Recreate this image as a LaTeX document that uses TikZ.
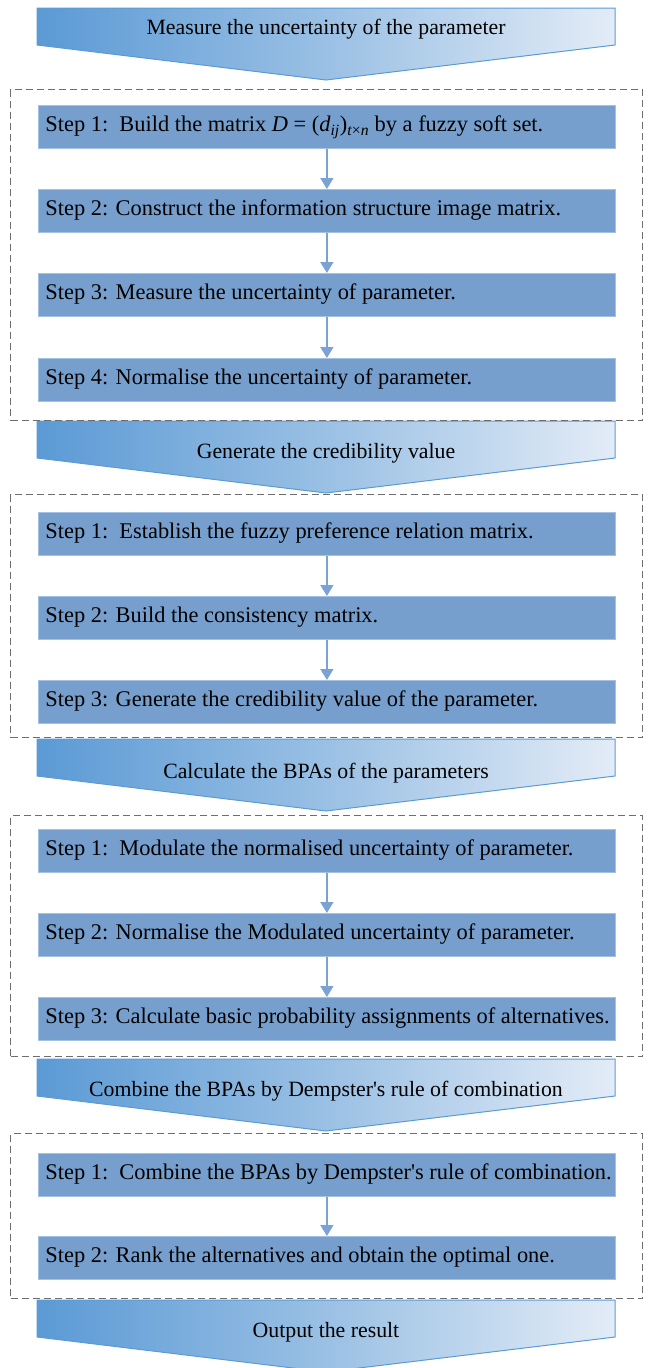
\documentclass[tikz,border=0pt]{standalone}
\usepackage{fontspec}
\setmainfont{Liberation Serif}
\usetikzlibrary{arrows.meta}
\definecolor{stepfill}{HTML}{769FCD}
\definecolor{stepline}{HTML}{A3C1E4}
\definecolor{arrowc}{HTML}{7AA3D3}
\definecolor{bL}{HTML}{5B9AD5}
\definecolor{bM}{HTML}{9AC0E4}
\definecolor{bR}{HTML}{E3ECF7}
\definecolor{bline}{HTML}{5B9BD5}
\definecolor{dashc}{HTML}{6E6E6E}
\newcommand{\steptxt}[1]{\makebox[563pt][l]{#1}}
\begin{document}
\begin{tikzpicture}[x=1pt,y=-1pt,
  stepbox/.style={draw=stepline, line width=0.8pt, fill=stepfill, minimum width=577pt, minimum height=43pt,
    inner xsep=7pt, inner ysep=0pt, anchor=north west,
    text height=15pt, text depth=5pt, font=\fontsize{22.4}{26}\selectfont},
  flow/.style={draw=arrowc, line width=1.6pt, -{Triangle[length=11pt,width=13pt]}},
  group/.style={draw=dashc, dash pattern=on 7pt off 4pt, line width=1.1pt, anchor=north west, inner sep=0pt},
  banner/.style={left color=bL, right color=bR, middle color=bM, draw=bline, line width=1pt},
  btext/.style={font=\fontsize{21.8}{25}\selectfont, inner sep=0pt}]
\useasboundingbox (0,0) rectangle (649,1368);

% banners
\newcommand{\bannershape}[1]{\path[banner] (37,#1) -- (615,#1) -- (615,#1+37) -- (326,#1+72) -- (37,#1+37) -- cycle;}
\bannershape{8}
\node[btext] (b1) at (326,29) {Measure the uncertainty of the parameter};
\bannershape{421}
\node[btext] (b2) at (326,453) {Generate the credibility value};
\bannershape{739}
\node[btext] (b3) at (326,773) {Calculate the BPAs of the parameters};
\bannershape{1059}
\node[btext] (b4) at (326,1091) {Combine the BPAs by Dempster\textquotesingle s rule of combination};
\bannershape{1300}
\node[btext] (b5) at (326,1332) {Output the result};

% groups
\node[group, minimum width=632pt, minimum height=331pt] (g1) at (10,89) {};
\node[group, minimum width=632pt, minimum height=243pt] (g2) at (10,494) {};
\node[group, minimum width=632pt, minimum height=241pt] (g3) at (10,815) {};
\node[group, minimum width=632pt, minimum height=165pt] (g4) at (10,1133) {};

% group 1
\node[stepbox] (s11) at (38,105) {\steptxt{Step 1:\ \ Build the matrix \textit{D} = (\textit{d}\textsubscript{\textit{ij}})\textsubscript{\textit{t}×\textit{n}} by a fuzzy soft set.}};
\node[stepbox] (s12) at (38,189) {\steptxt{Step 2: Construct the information structure image matrix.}};
\node[stepbox] (s13) at (38,273) {\steptxt{Step 3: Measure the uncertainty of parameter.}};
\node[stepbox] (s14) at (38,358) {\steptxt{Step 4: Normalise the uncertainty of parameter.}};
\draw[flow] (s11) -- (s12);
\draw[flow] (s12) -- (s13);
\draw[flow] (s13) -- (s14);

% group 2
\node[stepbox] (s21) at (38,512) {\steptxt{Step 1:\ \ Establish the fuzzy preference relation matrix.}};
\node[stepbox] (s22) at (38,596) {\steptxt{Step 2: Build the consistency matrix.}};
\node[stepbox] (s23) at (38,680) {\steptxt{Step 3: Generate the credibility value of the parameter.}};
\draw[flow] (s21) -- (s22);
\draw[flow] (s22) -- (s23);

% group 3
\node[stepbox] (s31) at (38,829) {\steptxt{Step 1:\ \ Modulate the normalised uncertainty of parameter.}};
\node[stepbox] (s32) at (38,913) {\steptxt{Step 2: Normalise the Modulated uncertainty of parameter.}};
\node[stepbox] (s33) at (38,997) {\steptxt{Step 3: Calculate basic probability assignments of alternatives.}};
\draw[flow] (s31) -- (s32);
\draw[flow] (s32) -- (s33);

% group 4
\node[stepbox] (s41) at (38,1153) {\steptxt{Step 1:\ \ Combine the BPAs by Dempster\textquotesingle s rule of combination.}};
\node[stepbox] (s42) at (38,1236) {\steptxt{Step 2: Rank the alternatives and obtain the optimal one.}};
\draw[flow] (s41) -- (s42);
\end{tikzpicture}
\end{document}
